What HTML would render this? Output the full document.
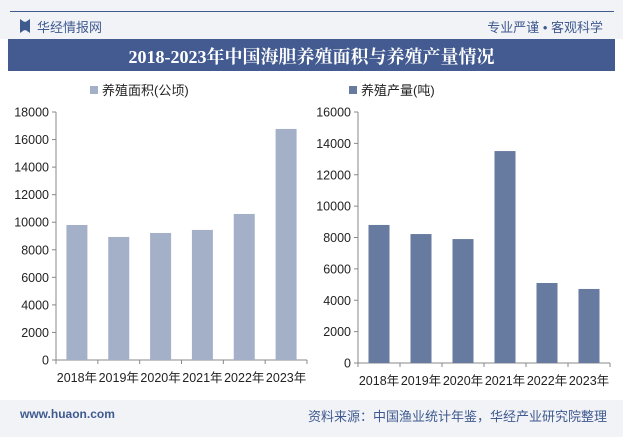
<!DOCTYPE html>
<html><head><meta charset="utf-8"><style>
body{margin:0;width:623px;height:437px;background:#fff;font-family:"Liberation Sans","Noto Sans CJK SC",sans-serif;overflow:hidden;position:relative}
.t{position:absolute;white-space:nowrap}
</style></head><body>
<div style="position:absolute;left:0;top:0;width:623px;height:39px;background:#f2f3f7"></div>
<div style="position:absolute;left:10px;top:11px;width:604px;height:1px;background:#3f5a8f"></div>
<div style="position:absolute;left:20px;top:19px;width:10px;height:14px;background:#3f5a8f;clip-path:polygon(0 0,40% 20%,60% 20%,100% 0,100% 100%,60% 80%,40% 80%,0 100%)"></div>
<div class="t" style="left:37px;top:17px;font-size:13px;color:#3f5a8f">华经情报网</div>
<div class="t" style="right:20px;top:17px;font-size:13px;color:#3f5a8f">专业严谨 • 客观科学</div>
<div style="position:absolute;left:8px;top:39px;width:607px;height:32px;background:#435b91"></div>
<div class="t" style="left:8px;width:607px;text-align:center;top:43px;font-size:18px;font-weight:bold;color:#fff;font-family:'Liberation Serif','Noto Serif CJK SC',serif">2018-2023年中国海胆养殖面积与养殖产量情况</div>
<svg id="c" width="623" height="437" style="position:absolute;left:0;top:0"></svg>
<div style="position:absolute;left:0;top:400px;width:623px;height:37px;background:#f2f3f7"></div>
<div class="t" style="left:20px;top:407px;font-size:12px;color:#3f5a8f;font-weight:bold">www.huaon.com</div>
<div class="t" style="right:16px;top:406px;font-size:13px;color:#3f5a8f">资料来源：中国渔业统计年鉴，华经产业研究院整理</div>
<script>
const categories=["2018年","2019年","2020年","2021年","2022年","2023年"];
const areaValues=[9800,8930,9220,9440,10600,16770];
const outputValues=[8800,8220,7900,13510,5100,4720];
const areaTicks=[0,2000,4000,6000,8000,10000,12000,14000,16000,18000];
const outputTicks=[0,2000,4000,6000,8000,10000,12000,14000,16000];
const svg=document.getElementById('c');const NS='http://www.w3.org/2000/svg';
function mk(t,a,txt){const e=document.createElementNS(NS,t);for(const k in a)e.setAttribute(k,a[k]);if(txt!==undefined)e.textContent=txt;svg.appendChild(e);return e;}
function chart(vals,ticks,x0,x1,y0,yTop,max,color,legend,lx,key){
 const y=v=>y0-(v/max)*(y0-yTop);const cw=(x1-x0)/vals.length;
 let l=mk('rect',{x:lx,y:86,width:8,height:8,fill:color});
 
 l=mk('text',{x:lx+12,y:95,'font-size':13,fill:'#222'},legend);
 
 let a=mk('line',{x1:x0,y1:yTop,x2:x0,y2:y0,stroke:'#888'});
 
 a=mk('line',{x1:x0,y1:y0,x2:x1,y2:y0,stroke:'#888'});
 
 ticks.forEach(t=>{const tl=mk('line',{x1:x0-4,y1:y(t),x2:x0,y2:y(t),stroke:'#888'});
  
  const tx=mk('text',{x:x0-7,y:y(t)+4.5,'font-size':12.5,fill:'#222','text-anchor':'end'},t);
  });
 vals.forEach((v,i)=>{const bw=21;const cx=x0+cw*(i+0.5);
  const r=mk('rect',{x:cx-bw/2,y:y(v),width:bw,height:y0-y(v),fill:color});
  
  const tl=mk('line',{x1:x0+cw*(i+1),y1:y0,x2:x0+cw*(i+1),y2:y0+4,stroke:'#888'});
  
  const tx=mk('text',{x:cx,y:y0+22,'font-size':12.5,fill:'#222','text-anchor':'middle'},categories[i]);
  });
 mk('line',{x1:x0,y1:y0,x2:x0,y2:y0+4,stroke:'#888'});
}
chart(areaValues,areaTicks,56,307,360,112,18000,'#a4b0c8','养殖面积(公顷)',90,'area');
chart(outputValues,outputTicks,358,610,363,112,16000,'#677a9f','养殖产量(吨)',349,'output');
</script>
</body></html>
